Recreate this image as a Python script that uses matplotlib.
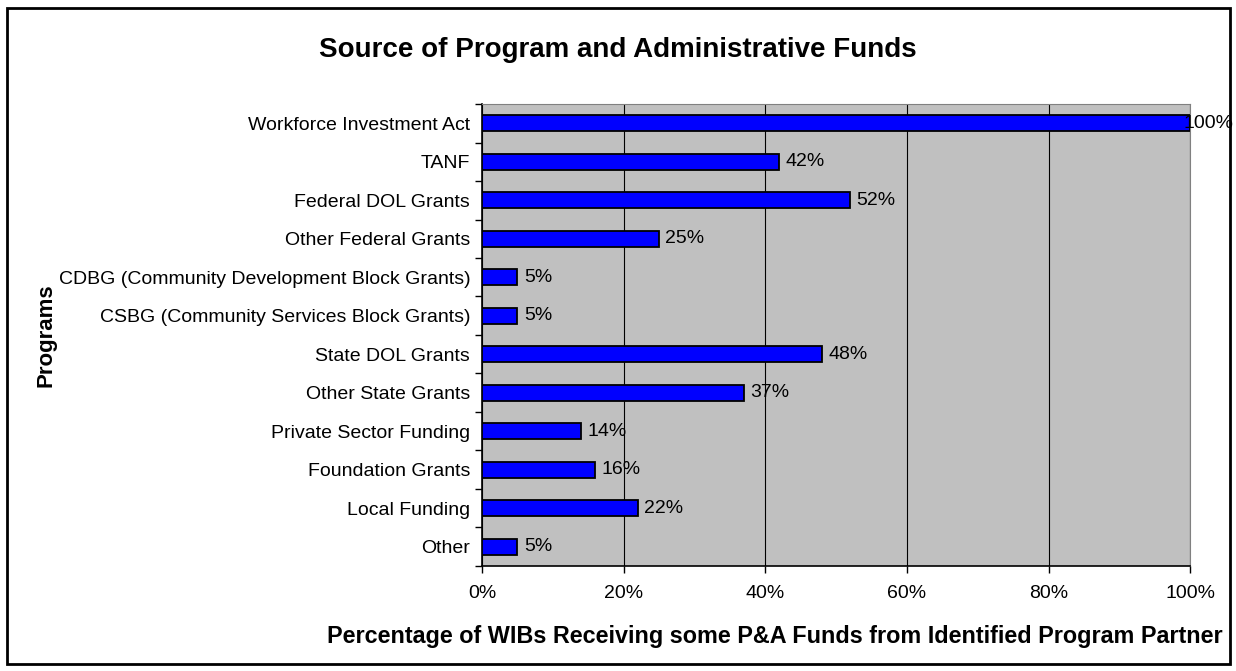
import numpy as np
import matplotlib.pyplot as plt
from matplotlib.patches import Rectangle
from matplotlib.ticker import FuncFormatter, MultipleLocator

plt.rcParams['font.family'] = ['Liberation Sans', 'DejaVu Sans']

programs = ['Workforce Investment Act', 'TANF', 'Federal DOL Grants',
            'Other Federal Grants', 'CDBG (Community Development Block Grants)',
            'CSBG (Community Services Block Grants)', 'State DOL Grants',
            'Other State Grants', 'Private Sector Funding', 'Foundation Grants',
            'Local Funding', 'Other']
percent = [100, 42, 52, 25, 5, 5, 48, 37, 14, 16, 22, 5]

fig = plt.figure(figsize=(12.36, 6.71), dpi=100)
ax = fig.add_axes([0.390, 0.1565, 0.573, 0.6885])

pos = np.arange(len(programs))
ax.barh(pos, percent, height=0.42, color='#0000FF', edgecolor='black',
        linewidth=1.3, zorder=3)
for p, v in zip(pos, percent):
    # labels near the right edge are pulled back so they stay inside the frame
    ax.text(min(v + 0.9, 99.0), p, f'{v}%', va='center', ha='left', fontsize=14,
            zorder=4, clip_on=False)

ax.set_xlim(0, 100)
ax.set_ylim(len(programs) - 0.5, -0.5)
ax.set_facecolor('#C0C0C0')
ax.xaxis.set_major_locator(MultipleLocator(20))
ax.xaxis.set_major_formatter(FuncFormatter(lambda x, _: f'{x:.0f}%'))
ax.grid(axis='x', color='black', linewidth=0.8, zorder=1)

# category ticks sit on the boundaries between bars
ax.set_yticks(pos)
ax.set_yticklabels(programs, fontsize=14)
ax.set_yticks(np.arange(len(programs) + 1) - 0.5, minor=True)
ax.tick_params(axis='y', which='major', length=0, pad=8.5)
ax.tick_params(axis='y', which='minor', length=5, width=1, direction='out')
ax.tick_params(axis='x', length=5, width=1, direction='out', labelsize=14, pad=9)

for side in ['top', 'right']:
    ax.spines[side].set_color('#808080')
for side in ['left', 'bottom']:
    ax.spines[side].set_color('black')
    ax.spines[side].set_linewidth(1.2)

fig.text(0.5, 0.925, 'Source of Program and Administrative Funds',
         ha='center', va='center', fontsize=20, fontweight='bold')
fig.text(0.037, 0.50, 'Programs', rotation=90, ha='center', va='center',
         fontsize=16, fontweight='bold')
fig.text(0.627, 0.051, 'Percentage of WIBs Receiving some P&A Funds from Identified Program Partner',
         ha='center', va='center', fontsize=16.8, fontweight='bold')

# chart frame
fig.patches.append(Rectangle((0.006, 0.01), 0.989, 0.978, transform=fig.transFigure,
                             fill=False, edgecolor='black', linewidth=2))

fig.savefig('out.png', dpi=100)
